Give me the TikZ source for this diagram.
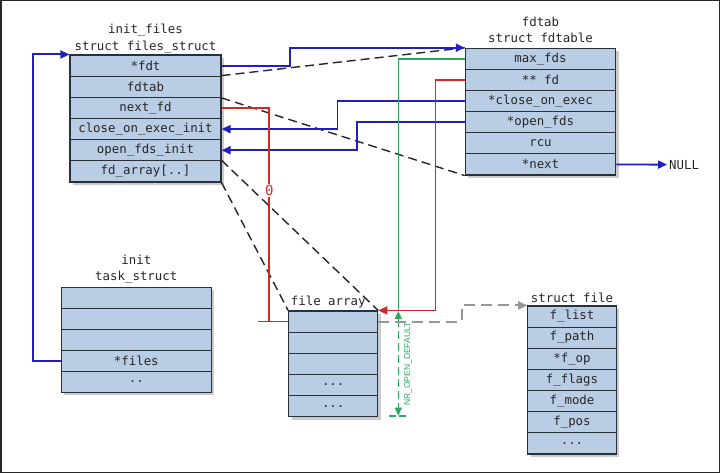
\documentclass[tikz,border=0pt]{standalone}
\usepackage{fontspec}
\setmainfont{DejaVu Sans}
\newfontfamily\codefont{DejaVu Sans Mono}
\newfontfamily\lblfont{Liberation Sans}
\usetikzlibrary{arrows.meta,calc}
\newcommand\mydd{..}
\newcommand\myddd{...}
\definecolor{cellfill}{RGB}{185,205,229}
\definecolor{cellline}{RGB}{40,48,60}
\definecolor{ptrblue}{RGB}{32,32,190}
\definecolor{ptrred}{RGB}{210,40,40}
\definecolor{ptrgreen}{RGB}{40,170,95}
\definecolor{ptrgray}{RGB}{150,150,150}
\definecolor{shadowc}{RGB}{160,160,160}
\tikzset{
  cell/.style={draw=cellline, fill=cellfill, line width=1.1pt, inner sep=0pt,
    text=black!85, font={\codefont\fontsize{12.4pt}{14pt}\selectfont}},
  ttl/.style={anchor=base, inner sep=0pt, text=black!85,
    font={\codefont\fontsize{12.4pt}{14pt}\selectfont}},
  tipb/.style={-{Triangle[length=9pt,width=8pt]}},
  blueptr/.style={draw=ptrblue, line width=1.9pt, tipb},
  redptr/.style={draw=ptrred, line width=1.7pt},
  greenptr/.style={draw=ptrgreen, line width=1.6pt},
  expand/.style={draw=black!85, line width=1.4pt, dash pattern=on 9pt off 5pt},
  grayptr/.style={draw=ptrgray, line width=2pt, dash pattern=on 11pt off 6pt,
    -{Triangle[length=9pt,width=8pt]}},
  shade/.style={fill=shadowc, opacity=0.55}
}
\begin{document}
\begin{tikzpicture}[x=1pt,y=-1pt]
\useasboundingbox (0,0) rectangle (720,473);
\draw[black!85, line width=1.5pt] (0.75,0.75) rectangle (719.25,472.25);

% shadows
\fill[shade] (73,58) rectangle (224,185);
\fill[shade] (468.3,51.3) rectangle (618.7,178);
\fill[shade] (64.3,290.3) rectangle (214.3,395.3);
\fill[shade] (291.7,314) rectangle (380.7,419.7);
\fill[shade] (530.7,309) rectangle (619.3,457);

% init_files
\node[ttl] (iftitle1) at (145.5,33.5) {init\_files};
\node[ttl] (iftitle2) at (145.5,50.5) {struct files\_struct};
\foreach \t [count=\i from 0] in {{*fdt},{fdtab},{next\_fd},{close\_on\_exec\_init},{open\_fds\_init},{fd\_array[\mydd]}}
  \node[cell, minimum width=151pt, minimum height=21.17pt] (if\i) at (145.5,{55+21.17*(\i+0.5)}) {\t};

% fdtab
\node[ttl] (fdtitle1) at (540.5,26.7) {fdtab};
\node[ttl] (fdtitle2) at (540.5,43) {struct fdtable};
\foreach \t [count=\i from 0] in {{max\_fds},{** fd},{*close\_on\_exec},{*open\_fds},{rcu},{*next}}
  \node[cell, minimum width=150.4pt, minimum height=21.12pt] (fd\i) at (540.5,{48.3+21.12*(\i+0.5)}) {\t};

% task_struct
\node[ttl] (tstitle1) at (136.3,264) {init};
\node[ttl] (tstitle2) at (136.3,280) {task\_struct};
\foreach \t [count=\i from 0] in {{},{},{},{*files},{\mydd}}
  \node[cell, minimum width=150pt, minimum height=21pt] (ts\i) at (136.3,{287.3+21*(\i+0.5)}) {\t};

% file array
\node[ttl, anchor=base west] (fatitle) at (290.7,305.7) {file array};
\foreach \t [count=\i from 0] in {{},{},{},{\myddd},{\myddd}}
  \node[cell, minimum width=89pt, minimum height=21.14pt] (fa\i) at (333.2,{311+21.14*(\i+0.5)}) {\t};

% struct file
\node[ttl] (sftitle) at (572,302) {struct file};
\foreach \t [count=\i from 0] in {{f\_list},{f\_path},{*f\_op},{f\_flags},{f\_mode},{f\_pos},{\myddd}}
  \node[cell, minimum width=88.6pt, minimum height=21.14pt] (sf\i) at (572,{306+21.14*(\i+0.5)}) {\t};

% NULL
\node[ttl, anchor=west, inner sep=2pt] (null) at (667,164.6) {NULL};
\draw[blueptr] (fd5.east) -- (null.west);

% expansion dashed lines
\draw[expand] (if1.north east) -- (fd0.north west);
\draw[expand] (if1.south east) -- (fd5.south west);
\draw[expand] (if5.north east) -- (fa0.north east);
\draw[expand] (if5.south east) -- (fa0.north west);

% blue pointers
\draw[blueptr] (if0.east) -- ++(68.3,0) |- (fd0.north west);
\draw[blueptr] (fd2.west) -- ++(-127.3,0) |- (if3.east);
\draw[blueptr] (fd3.west) -- ++(-108,0) |- (if4.east);
\draw[blueptr] (ts3.west) -- ++(-28,0) |- (if0.north west);

% green (NR_OPEN_DEFAULT)
\coordinate (gtop) at (398.3,311);
\coordinate (gbot) at (398.3,415.7);
\draw[greenptr] (fd0.west) -| (gtop);
\draw[greenptr, dash pattern=on 8pt off 4pt,
  {Triangle[length=8pt,width=7pt]}-{Triangle[length=8pt,width=7pt]}]
  (gtop) -- (gbot);
\draw[greenptr, dash pattern=on 7pt off 3pt] ($(gbot)+(-9,0)$) -- ($(gbot)+(9,0)$);
\node[rotate=90, text=ptrgreen, inner sep=0pt,
  font={\lblfont\fontsize{8.5pt}{9pt}\selectfont}] (nrlbl) at (408,364) {NR\_OPEN\_DEFAULT};

% red pointers
\coordinate (rbar) at (269.3,321.6);
\draw[redptr] (if2.east) -| (rbar);
\draw[redptr] (fa0.west) -- ($(fa0.west)+(-30.4,0)$);
\node[fill=white, inner sep=1pt, text=ptrred,
  font={\codefont\fontsize{14pt}{16pt}\selectfont}] (zero) at (269.3,190.5) {0};
\draw[redptr, tipb] (fd1.west) -- ++(-29.3,0) |- (fa0.north east);

% gray pointer to struct file
\draw[grayptr] (fa0.east) -- ++(83.3,0) |- (sf0.north west);
\end{tikzpicture}
\end{document}
